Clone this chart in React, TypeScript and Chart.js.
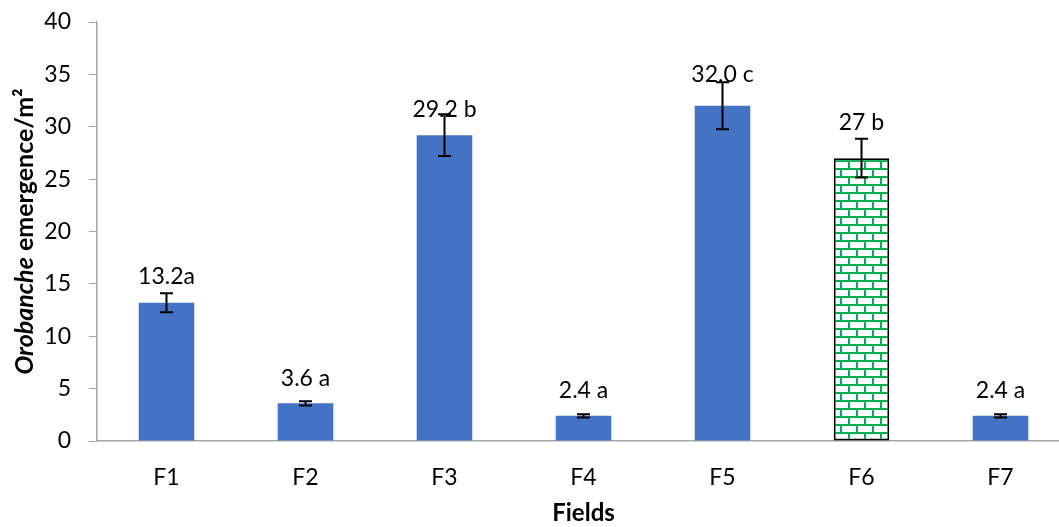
import { useEffect, useRef } from "react";
import { Chart, registerables } from "chart.js";

Chart.register(...registerables);

const categories = ["F1", "F2", "F3", "F4", "F5", "F6", "F7"];
const values = [13.2, 3.6, 29.2, 2.4, 32.0, 27, 2.4];
const errors = [0.9, 0.2, 2.0, 0.15, 2.25, 1.85, 0.15];
const barLabels = ["13.2a", "3.6 a", "29.2 b", "2.4 a", "32.0 c", "27 b", "2.4 a"];
const patternedIndex = 5;
const yMin = 0;
const yMax = 40;
const yStep = 5;
const xTitle = "Fields";
const yTitleItalic = "Orobanche";
const yTitleRest = " emergence/m\u00B2";

const FONT = "Lato, 'Open Sans', sans-serif";
const BLUE = "#4472C4";
const GREEN = "#00B050";
const AXIS = "#A6A6A6";
const labelLift = [26, 25, 26, 25, 31, 36, 25];

function makeBrickPattern(ctx: CanvasRenderingContext2D): CanvasPattern | string {
  const c = document.createElement("canvas");
  c.width = 16;
  c.height = 16;
  const p = c.getContext("2d");
  if (!p) return GREEN;
  p.fillStyle = "#ffffff";
  p.fillRect(0, 0, 16, 16);
  p.fillStyle = GREEN;
  p.fillRect(0, 0, 16, 2);
  p.fillRect(0, 8, 16, 2);
  p.fillRect(0, 0, 2, 8);
  p.fillRect(8, 8, 2, 8);
  return ctx.createPattern(c, "repeat") || GREEN;
}

const overlayPlugin = {
  id: "overlay",
  afterDatasetsDraw(chart: any) {
    const ctx = chart.ctx as CanvasRenderingContext2D;
    const meta = chart.getDatasetMeta(0);
    const yScale = chart.scales.y;
    ctx.save();
    ctx.strokeStyle = "#000000";
    ctx.lineWidth = 2;
    meta.data.forEach((bar: any, i: number) => {
      const x = bar.x;
      const yTop = yScale.getPixelForValue(values[i] + errors[i]);
      const yBot = yScale.getPixelForValue(values[i] - errors[i]);
      const cap = 6.5;
      ctx.beginPath();
      ctx.moveTo(x, yTop);
      ctx.lineTo(x, yBot);
      ctx.moveTo(x - cap, yTop);
      ctx.lineTo(x + cap, yTop);
      ctx.moveTo(x - cap, yBot);
      ctx.lineTo(x + cap, yBot);
      ctx.stroke();
    });
    ctx.fillStyle = "#000000";
    ctx.font = `23px ${FONT}`;
    ctx.textAlign = "center";
    ctx.textBaseline = "middle";
    meta.data.forEach((bar: any, i: number) => {
      ctx.fillText(barLabels[i], bar.x, bar.y - labelLift[i]);
    });
    ctx.restore();
  },
  afterDraw(chart: any) {
    const ctx = chart.ctx as CanvasRenderingContext2D;
    const area = chart.chartArea;
    ctx.save();
    ctx.fillStyle = "#000000";
    ctx.textBaseline = "middle";
    ctx.textAlign = "center";
    ctx.font = `bold 24px ${FONT}`;
    ctx.fillText(xTitle, (area.left + area.right) / 2, area.bottom + 72);
    const cy = (area.top + area.bottom) / 2;
    ctx.translate(25, cy);
    ctx.rotate(-Math.PI / 2);
    const fItalic = `italic bold 25px ${FONT}`;
    const fBold = `bold 25px ${FONT}`;
    ctx.font = fItalic;
    const w1 = ctx.measureText(yTitleItalic).width;
    ctx.font = fBold;
    const w2 = ctx.measureText(yTitleRest).width;
    const x0 = -(w1 + w2) / 2;
    ctx.textAlign = "left";
    ctx.font = fItalic;
    ctx.fillText(yTitleItalic, x0, 0);
    ctx.font = fBold;
    ctx.fillText(yTitleRest, x0 + w1, 0);
    ctx.restore();
  },
};

export default function App() {
  const canvasRef = useRef<HTMLCanvasElement | null>(null);

  useEffect(() => {
    const canvas = canvasRef.current;
    if (!canvas) return;
    const ctx = canvas.getContext("2d");
    if (!ctx) return;
    const pattern = makeBrickPattern(ctx);
    const bg = values.map((_, i) => (i === patternedIndex ? pattern : BLUE));
    const bc = values.map((_, i) => (i === patternedIndex ? "#000000" : BLUE));
    const bw = values.map((_, i) => (i === patternedIndex ? 2 : 0));

    const chart = new Chart(ctx, {
      type: "bar",
      data: {
        labels: categories,
        datasets: [
          {
            data: values,
            backgroundColor: bg as any,
            borderColor: bc,
            borderWidth: bw,
            borderSkipped: false,
            categoryPercentage: 1,
            barPercentage: 0.4,
          },
        ],
      },
      options: {
        responsive: false,
        animation: false,
        devicePixelRatio: 1,
        layout: { padding: { top: 22, left: 0, right: 0, bottom: 0 } },
        plugins: {
          legend: { display: false },
          tooltip: { enabled: false },
          title: { display: false },
        },
        scales: {
          x: {
            type: "category",
            offset: true,
            grid: { display: true, drawOnChartArea: false, drawTicks: false, color: AXIS },
            border: { display: true, color: AXIS, width: 1.5 },
            ticks: { color: "#000000", font: { family: FONT, size: 23 }, padding: 23 },
            afterFit: (scale: any) => {
              scale.height = 86;
              scale.paddingLeft = 0;
              scale.paddingRight = 0;
            },
          },
          y: {
            min: yMin,
            max: yMax,
            grid: { display: true, drawOnChartArea: false, drawTicks: true, tickLength: 8, color: AXIS },
            border: { display: true, color: AXIS, width: 1.5 },
            ticks: { stepSize: yStep, color: "#000000", font: { family: FONT, size: 23 }, padding: 18 },
            afterFit: (scale: any) => {
              scale.width = 97;
              scale.paddingTop = 0;
              scale.paddingBottom = 0;
            },
          },
        },
      },
      plugins: [overlayPlugin],
    });
    return () => chart.destroy();
  }, []);

  return (
    <div
      style={{
        position: "absolute",
        left: 0,
        top: 0,
        width: 1059,
        height: 527,
        overflow: "hidden",
        background: "#ffffff",
      }}
    >
      <canvas ref={canvasRef} width={1070} height={527} style={{ display: "block", width: 1070, height: 527 }} />
    </div>
  );
}
